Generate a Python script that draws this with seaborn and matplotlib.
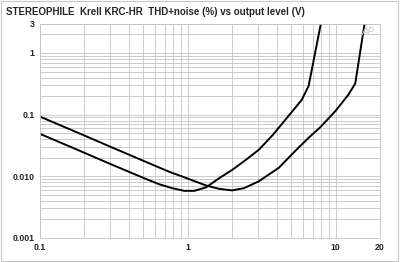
import matplotlib
matplotlib.use("Agg")
import matplotlib.pyplot as plt
import matplotlib.ticker as mticker
from matplotlib.patches import Rectangle
import seaborn as sns
import pandas as pd
import numpy as np

title = "STEREOPHILE  Krell KRC-HR  THD+noise (%) vs output level (V)"

# Curve A (higher at low level, clips near 16 V)
a_volts = [0.1, 0.196, 0.296, 0.47, 0.75, 0.973, 1.326, 1.63, 1.995, 2.4, 3.03, 4.13, 5.30, 6.57, 7.92, 10.0, 12.2, 13.6, 15.8]
a_thd = [0.0928, 0.0467, 0.0305, 0.019, 0.0118, 0.0094, 0.0071, 0.00625, 0.0059, 0.0064, 0.0083, 0.0137, 0.0253, 0.042, 0.063, 0.115, 0.209, 0.32, 3.2]

# Curve B (lower at low level, clips near 8 V)
b_volts = [0.1, 0.167, 0.296, 0.384, 0.518, 0.643, 0.787, 0.946, 1.106, 1.33, 1.63, 2.0, 2.44, 3.03, 3.77, 4.68, 5.90, 6.57, 7.23, 8.0]
b_thd = [0.0487, 0.0289, 0.016, 0.0123, 0.0091, 0.0074, 0.0064, 0.0058, 0.0058, 0.0066, 0.0093, 0.0127, 0.018, 0.027, 0.047, 0.088, 0.173, 0.29, 0.93, 3.2]

x_ticks = [0.1, 1, 10, 20]
x_labels = ["0.1", "1", "10", "20"]
y_ticks = [0.001, 0.01, 0.1, 1, 3]
y_labels = ["0.001", "0.010", "0.1", "1", "3"]

df = pd.concat([
    pd.DataFrame({"volts": a_volts, "thd": a_thd, "curve": "A"}),
    pd.DataFrame({"volts": b_volts, "thd": b_thd, "curve": "B"}),
])

sns.set_style("white")
plt.rcParams["font.family"] = ["Liberation Sans", "DejaVu Sans"]

fig = plt.figure(figsize=(4.0, 2.62), dpi=100)
ax = fig.add_axes([0.1, 0.092, 0.85, 0.818])

ax.set_xscale("log")
ax.set_yscale("log")
sns.lineplot(data=df, x="volts", y="thd", units="curve", estimator=None,
             sort=False, color="black", linewidth=1.4, ax=ax)
for ln in ax.get_lines():
    ln.set_solid_joinstyle("round")

ax.set_xlim(0.1, 20)
ax.set_ylim(0.001, 3)
ax.xaxis.set_major_locator(mticker.FixedLocator(x_ticks))
ax.xaxis.set_major_formatter(mticker.FixedFormatter(x_labels))
ax.yaxis.set_major_locator(mticker.FixedLocator(y_ticks))
ax.yaxis.set_major_formatter(mticker.FixedFormatter(y_labels))
ax.xaxis.set_minor_locator(mticker.LogLocator(base=10, subs=np.arange(2, 10)))
ax.yaxis.set_minor_locator(mticker.LogLocator(base=10, subs=np.arange(2, 10)))
ax.xaxis.set_minor_formatter(mticker.NullFormatter())
ax.yaxis.set_minor_formatter(mticker.NullFormatter())

ax.grid(True, which="both", color="#c4c4c4", linewidth=0.6)
ax.set_axisbelow(True)
ax.tick_params(which="both", length=0, pad=4, labelsize=6.3)
for lab in ax.get_xticklabels() + ax.get_yticklabels():
    lab.set_fontweight("bold")
for s in ax.spines.values():
    s.set_color("#c4c4c4")
    s.set_linewidth(0.6)
ax.set_xlabel("")
ax.set_ylabel("")

fig.text(0.016, 0.953, title, fontsize=7, fontweight="bold", ha="left", va="center")
ax.text(0.965, 0.962, "AP", transform=ax.transAxes, fontsize=7, color="#cccccc",
        ha="center", va="center", style="italic")

fig.patches.append(Rectangle((0.002, 0.003), 0.994, 0.994, transform=fig.transFigure,
                             fill=False, edgecolor="#c8c8c8", linewidth=0.8))

fig.savefig("out.png", dpi=100, facecolor="white")
